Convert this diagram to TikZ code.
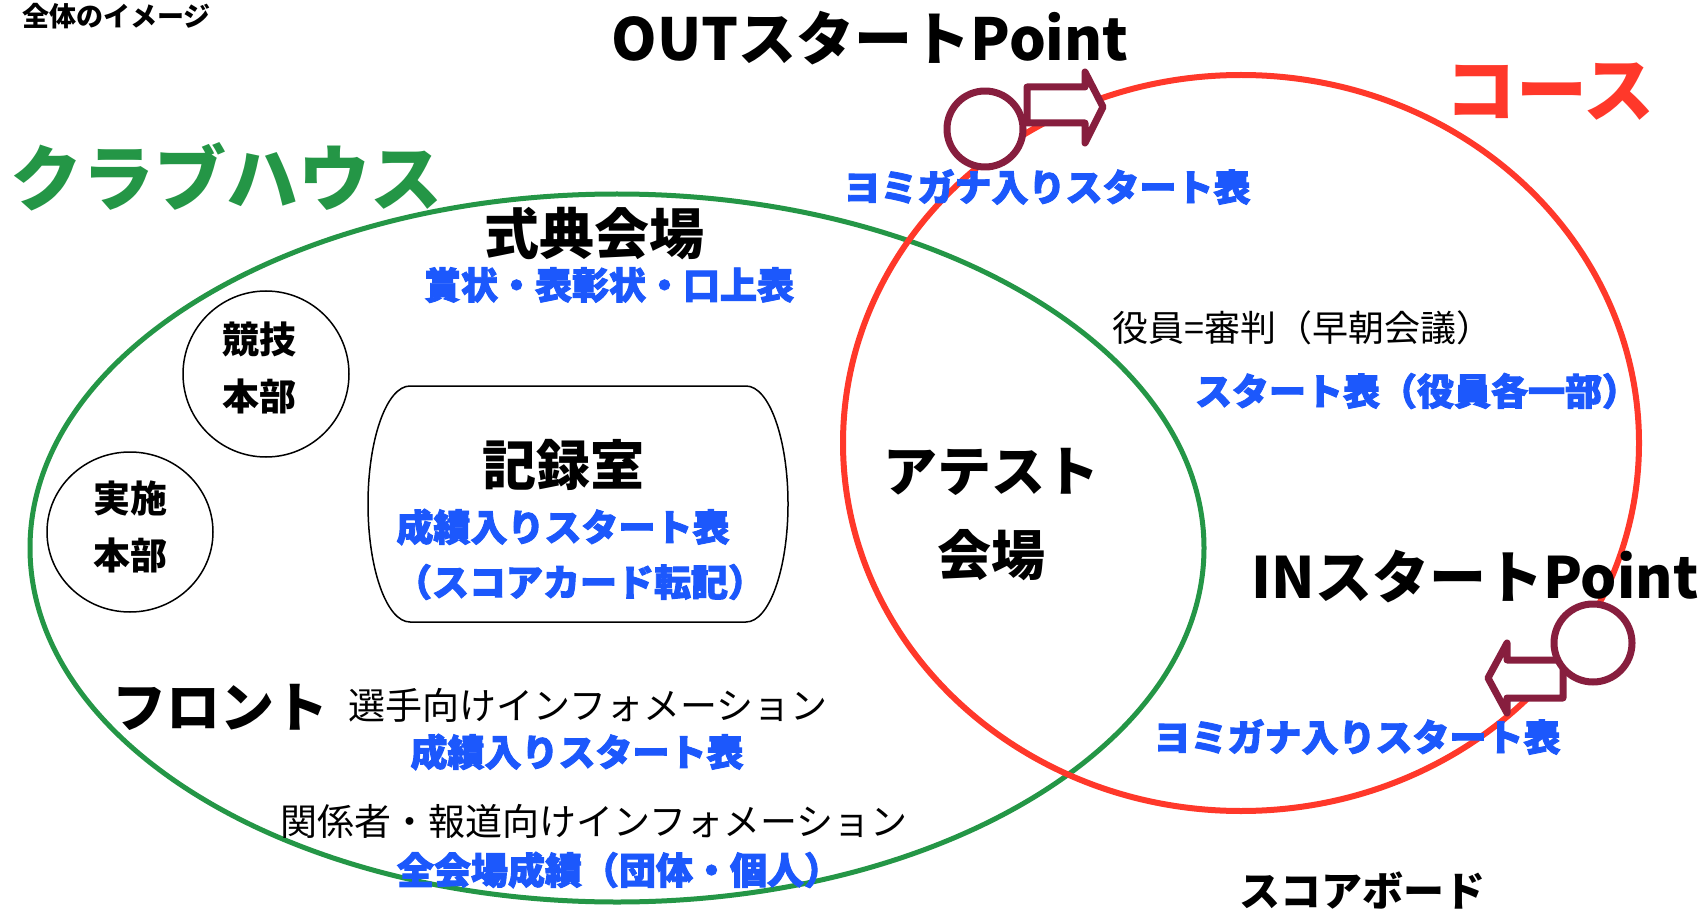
\documentclass[tikz,border=0pt]{standalone}
\usepackage{fontspec}
\setmainfont{Noto Sans CJK JP}
\newfontfamily\heavyjp{Noto Sans CJK JP}[FakeBold=2.5]
\usetikzlibrary{shapes.geometric}
\definecolor{courseRed}{RGB}{255,56,42}
\definecolor{houseGreen}{RGB}{36,150,70}
\definecolor{docBlue}{RGB}{28,88,252}
\definecolor{startMaroon}{RGB}{135,30,62}
\tikzset{
	bold/.style={inner sep=0pt, font=\bfseries\fontsize{#1}{#1}\selectfont},
	thin/.style={inner sep=0pt, font=\fontsize{#1}{#1}\selectfont},
	doc/.style={inner sep=0pt, text=docBlue, font=\heavyjp\bfseries\fontsize{37}{37}\selectfont},
	room/.style={draw, line width=1.5pt, fill=white},
	roomname/.style={inner sep=0pt, align=center, font=\bfseries\fontsize{37}{57}\selectfont},
	startmark/.style={startMaroon, line width=7pt, line join=round, fill=white}
}

\begin{document}
\begin{tikzpicture}[x=1pt, y=-1pt]
		%%%%% START %%%%%
		
		\fill[white] (0, 0) rectangle (1705, 909);
		\useasboundingbox (0, 0) rectangle (1705, 909);
		
		\draw[houseGreen, line width=5pt] (617, 548) ellipse (587 and 354);
		\draw[courseRed, line width=6pt] (1241, 443) ellipse (398 and 368);
		
		\node[bold=27, anchor=west] (overview) at (22, 16) {全体のイメージ};
		\node[bold=58] (outpoint) at (870, 38) {OUTスタートPoint};
		\node[bold=71, text=courseRed] (course) at (1550, 92) {コース};
		\node[bold=72, text=houseGreen] (clubhouse) at (226, 177) {クラブハウス};
		
		\draw[startmark] (1027, 87) -- (1085, 87) -- (1085, 72) -- (1103, 107) -- (1085, 143) -- (1085, 123) -- (1027, 123) -- cycle;
		\draw[startmark] (985, 129) circle (38);
		\node[doc] (outlist) at (1047, 187) {ヨミガナ入りスタート表};
		
		\node[bold=55] (ceremony) at (594, 234) {式典会場};
		\node[doc] (awards) at (609, 285) {賞状・表彰状・口上表};
		
		\draw[room] (266, 374) circle (83);
		\node[roomname] (kyogi) at (259, 368) {競技\\本部};
		\draw[room] (130, 532) ellipse (83 and 80);
		\node[roomname] (jisshi) at (130, 527) {実施\\本部};
		
		\draw[room] (410, 386) -- (746, 386) arc[start angle=-90, end angle=90, x radius=42, y radius=118] -- (410, 622) arc[start angle=90, end angle=270, x radius=42, y radius=118] -- cycle;
		\node[bold=54] (records) at (563, 465) {記録室};
		\node[doc] (recordlist) at (563, 527) {成績入りスタート表};
		\node[doc] (scorecard) at (580, 582) {（スコアカード転記）};
		
		\node[align=center, inner sep=0pt, font=\bfseries\fontsize{54}{84}\selectfont] (attest) at (991, 515) {アテスト\\会場};
		
		\node[thin=36] (officials) at (1302, 328) {役員=審判（早朝会議）};
		\node[doc] (officiallist) at (1417, 391) {スタート表（役員各一部）};
		
		\node[bold=57] (inpoint) at (1475, 576) {INスタートPoint};
		\draw[startmark] (1563, 660) -- (1507, 660) -- (1507, 643) -- (1488, 678) -- (1507, 713) -- (1507, 698) -- (1563, 698) -- cycle;
		\draw[startmark] (1593, 643) circle (39);
		\node[doc] (inlist) at (1357, 737) {ヨミガナ入りスタート表};
		
		\node[bold=54] (front) at (220, 707) {フロント};
		\node[thin=37] (players) at (588, 705) {選手向けインフォメーション};
		\node[doc] (frontlist) at (577, 752) {成績入りスタート表};
		\node[thin=37] (press) at (594, 821) {関係者・報道向けインフォメーション};
		\node[doc] (allresults) at (619, 870) {全会場成績（団体・個人）};
		
		\node[bold=41] (scoreboard) at (1362, 890) {スコアボード};
		
		%%%%% END %%%%%
	\end{tikzpicture}
\end{document}
